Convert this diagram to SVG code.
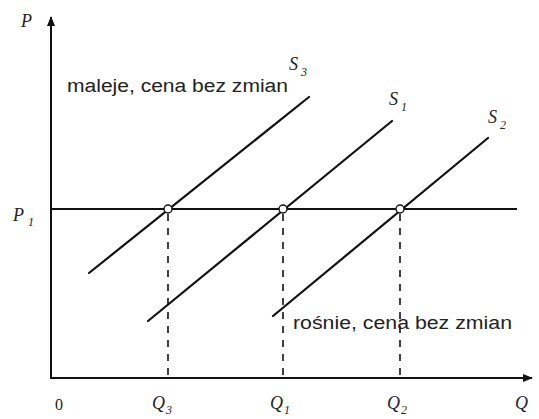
<svg xmlns="http://www.w3.org/2000/svg" width="539" height="419" viewBox="0 0 539 419">
<defs>
<style>
.ax{stroke:#111;stroke-width:2;fill:none}
.ln{stroke:#111;stroke-width:2.2;fill:none;stroke-linecap:round}
.ds{stroke:#111;stroke-width:1.6;fill:none;stroke-dasharray:7,7}
.pt{stroke:#111;stroke-width:1.4;fill:#fff}
.lb{font-family:"Liberation Serif",serif;font-style:italic;font-size:18px;fill:#222}
.sb{font-family:"Liberation Serif",serif;font-style:italic;font-size:12px;fill:#222}
.tx{font-family:"Liberation Sans",Arial,sans-serif;font-size:18px;fill:#222}
</style>
<marker id="ah" markerWidth="10" markerHeight="8" refX="9" refY="4" orient="auto" markerUnits="userSpaceOnUse">
<path d="M0,0 L10,4 L0,8 Z" fill="#111"/>
</marker>
</defs>
<g id="connectors">
<line class="ax" x1="51" y1="378" x2="51" y2="17" marker-end="url(#ah)"/>
<line class="ax" x1="50" y1="378" x2="532" y2="378" marker-end="url(#ah)"/>
<line class="ax" x1="51" y1="209" x2="517" y2="209"/>
<line class="ln" x1="89" y1="273" x2="309" y2="97"/>
<line class="ln" x1="148" y1="321" x2="392" y2="121"/>
<line class="ln" x1="273" y1="316" x2="488" y2="138"/>
<line class="ds" x1="168" y1="214" x2="168" y2="378"/>
<line class="ds" x1="283" y1="214" x2="283" y2="378"/>
<line class="ds" x1="400" y1="214" x2="400" y2="378"/>
</g>
<g id="points">
<circle class="pt" cx="168" cy="209" r="4"/>
<circle class="pt" cx="283" cy="209" r="4"/>
<circle class="pt" cx="400" cy="209" r="4"/>
</g>
<g id="labels">
<text class="lb" x="21" y="27">P</text>
<text class="lb" x="13" y="221">P</text><text class="sb" x="28" y="226">1</text>
<text class="lb" x="55" y="410" style="font-style:normal;font-size:16px">0</text>
<text class="lb" x="152" y="409">Q</text><text class="sb" x="166" y="414">3</text>
<text class="lb" x="270" y="409">Q</text><text class="sb" x="284" y="414">1</text>
<text class="lb" x="387" y="409">Q</text><text class="sb" x="401" y="414">2</text>
<text class="lb" x="515" y="409">Q</text>
<text class="lb" x="289" y="70">S</text><text class="sb" x="301" y="76">3</text>
<text class="lb" x="389" y="105">S</text><text class="sb" x="401" y="111">1</text>
<text class="lb" x="488" y="123">S</text><text class="sb" x="500" y="129">2</text>
</g>
<g id="texts">
<text class="tx" x="67" y="92" textLength="221" lengthAdjust="spacingAndGlyphs">maleje, cena bez zmian</text>
<text class="tx" x="293" y="329" textLength="219" lengthAdjust="spacingAndGlyphs">rośnie, cena bez zmian</text>
</g>
</svg>
